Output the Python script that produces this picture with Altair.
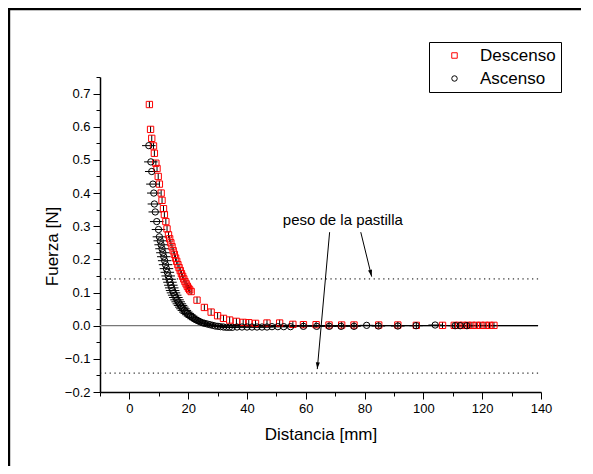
import altair as alt
import pandas as pd

FONT = "Liberation Sans"
NBSP = "\u00a0"

# ---- data ----
series_names = ["Descenso", "Ascenso"]

desc_x = [6.8, 7.2, 7.6, 8.2, 8.5, 9.0, 9.4, 9.8, 10.2, 10.8, 11.1, 11.6, 11.9, 12.4, 12.8,
          13.3, 13.7, 14.1, 14.5, 14.9, 15.3, 15.7, 16.1, 16.5, 16.9, 17.3, 17.7, 18.1, 18.5,
          18.9, 19.3, 19.7, 20.1, 20.5, 21.0, 23.0, 25.5, 27.8, 30.0, 32.0, 34.1, 36.4, 38.7,
          40.6, 42.9, 46.8, 51.1, 55.6, 59.2, 63.5, 67.9, 72.2, 76.4, 84.8, 91.3, 97.6, 106.5,
          110.5, 112.0, 113.5, 115.0, 116.5, 118.0, 119.5, 121.0, 122.5, 124.0]
desc_y = [0.667, 0.592, 0.565, 0.542, 0.520, 0.490, 0.474, 0.450, 0.427, 0.400, 0.378, 0.353,
          0.335, 0.314, 0.292, 0.274, 0.262, 0.250, 0.238, 0.226, 0.215, 0.204, 0.194, 0.184,
          0.175, 0.166, 0.157, 0.149, 0.141, 0.133, 0.126, 0.119, 0.113, 0.108, 0.103, 0.077,
          0.055, 0.041, 0.030, 0.022, 0.017, 0.013, 0.010, 0.009, 0.007, 0.008, 0.008, 0.004,
          0.003, 0.003, 0.002, 0.002, 0.002, 0.002, 0.002, 0.001, 0.001, 0.001, 0.001, 0.001,
          0.001, 0.001, 0.001, 0.001, 0.001, 0.001, 0.001]

asc_x = [6.6, 7.3, 7.6, 8.0, 8.3, 8.5, 8.8, 9.3, 9.9, 10.2, 10.5, 10.8, 11.1, 11.4, 11.7, 12.0,
         12.3, 12.6, 12.9, 13.2, 13.5, 13.8, 14.1, 14.4, 14.7, 15.0, 15.4, 15.8, 16.2, 16.6,
         17.0, 17.4, 17.8, 18.2, 18.7, 19.2, 19.7, 20.2, 20.8, 21.4, 22.0, 22.6, 23.3, 24.0,
         24.8, 25.6, 26.5, 27.4, 28.3, 29.2, 30.1, 31.0, 32.0, 33.0, 34.0, 35.0, 36.6, 38.3,
         40.0, 41.7, 43.4, 45.1, 46.8, 48.5, 50.5, 52.5, 54.8, 59.2, 63.7, 68.0, 72.0, 76.4,
         80.7, 84.7, 91.3, 97.5, 104.0, 110.8, 112.5, 114.8]
asc_y = [0.543, 0.494, 0.465, 0.427, 0.400, 0.367, 0.343, 0.314, 0.290, 0.268, 0.256, 0.244,
         0.232, 0.220, 0.208, 0.196, 0.184, 0.172, 0.161, 0.150, 0.140, 0.131, 0.122, 0.114,
         0.106, 0.099, 0.092, 0.085, 0.078, 0.072, 0.066, 0.061, 0.056, 0.051, 0.046, 0.041,
         0.037, 0.033, 0.029, 0.025, 0.021, 0.018, 0.015, 0.012, 0.009, 0.007, 0.005, 0.003,
         0.001, -0.001, -0.002, -0.003, -0.004, -0.005, -0.005, -0.005, -0.004, -0.004, -0.004,
         -0.004, -0.004, -0.004, -0.004, -0.003, -0.003, -0.003, -0.003, -0.002, -0.002, -0.002,
         -0.002, -0.002, 0.001, -0.001, -0.001, 0.000, 0.002, 0.000, 0.000, 0.000]

ASC_XERR = 2.3      # mm, horizontal error of the "Ascenso" points
DESC_YERR = 0.01    # N, vertical error of the "Descenso" points

weight_levels = [0.141, -0.143]          # "peso de la pastilla"
zero_gray_x = [-10, 139]
zero_black_x = [25, 139]

x_major = [0, 20, 40, 60, 80, 100, 120, 140]
x_minor = [-10, 10, 30, 50, 70, 90, 110, 130]
y_major = [-0.2, -0.1, 0.0, 0.1, 0.2, 0.3, 0.4, 0.5, 0.6, 0.7]
y_minor = [-0.15, -0.05, 0.05, 0.15, 0.25, 0.35, 0.45, 0.55, 0.65, 0.75]

note_text = "peso de la pastilla"
note_pos = (72.6, 0.32)
arrow_start_x = [68.1, 78.7]
arrow_start_y = [0.282, 0.282]
arrow_end_x = [63.9, 82.4]
arrow_end_y = [-0.131, 0.148]
arrow_angle = [5, 346]

# ---- tables ----
pts = pd.DataFrame({
    "serie": [series_names[0]] * len(desc_x) + [series_names[1]] * len(asc_x),
    "x": desc_x + asc_x,
    "y": desc_y + asc_y,
})
desc_df = pd.DataFrame({"x": desc_x, "y": desc_y})
desc_df["ylo"] = desc_df["y"] - DESC_YERR
desc_df["yhi"] = desc_df["y"] + DESC_YERR
asc_df = pd.DataFrame({"x": asc_x, "y": asc_y})
asc_df["xlo"] = asc_df["x"] - ASC_XERR
asc_df["xhi"] = asc_df["x"] + ASC_XERR
lev_df = pd.DataFrame({"y": weight_levels, "x": [-10, -10], "x2": [140, 140]})
arr_df = pd.DataFrame({"x": arrow_start_x, "y": arrow_start_y,
                       "x2": arrow_end_x, "y2": arrow_end_y, "ang": arrow_angle})
one = pd.DataFrame({"a": [0]})

xs = alt.Scale(domain=[-10, 140], nice=False, zero=False)
ys = alt.Scale(domain=[-0.2, 0.75], nice=False, zero=False)


def X(f, **kw):
    return alt.X(f, type="quantitative", scale=xs, axis=None, **kw)


def Y(f, **kw):
    return alt.Y(f, type="quantitative", scale=ys, axis=None, **kw)


# minor tick axes layer (dotted weight lines)
levels = alt.Chart(lev_df).mark_rule(color="black", strokeWidth=1, strokeDash=[1.3, 3.5]).encode(
    x=alt.X("x:Q", scale=xs, axis=alt.Axis(orient="bottom", values=x_minor, tickSize=4, labels=False,
                                          domain=False, title=None, grid=False, tickColor="black")),
    x2="x2:Q",
    y=alt.Y("y:Q", scale=ys, axis=alt.Axis(orient="left", values=y_minor, tickSize=4, labels=False,
                                          domain=False, title=None, grid=False, tickColor="black")),
)

zero_gray = alt.Chart(pd.DataFrame({"x": [zero_gray_x[0]], "x2": [zero_gray_x[1]], "y": [0.0]})).mark_rule(
    color="#777777", strokeWidth=1.2).encode(x=X("x"), x2="x2", y=Y("y"))
zero_black = alt.Chart(pd.DataFrame({"x": [zero_black_x[0]], "x2": [zero_black_x[1]], "y": [0.0]})).mark_rule(
    color="black", strokeWidth=1.2).encode(x=X("x"), x2="x2", y=Y("y"))

desc_err = alt.Chart(desc_df).mark_rule(color="black", strokeWidth=1).encode(
    x=X("x"), y=Y("ylo"), y2="yhi")
asc_err = alt.Chart(asc_df).mark_rule(color="black", strokeWidth=1).encode(
    x=X("xlo"), x2="xhi", y=Y("y"))

points = alt.Chart(pts).mark_point(filled=False, size=40, strokeWidth=1, opacity=1).encode(
    x=alt.X("x:Q", scale=xs, axis=alt.Axis(
        orient="bottom", values=x_major, tickSize=7, labelFontSize=13, labelPadding=3,
        labelFont=FONT, title="Distancia [mm]", titleFont=FONT, titleFontSize=17,
        titleFontWeight="normal", titleBaseline="alphabetic", titleY=47, grid=False,
        domainColor="black", domainWidth=1.5, tickColor="black", labelColor="black",
        titleColor="black", labelFlush=False, labelOverlap=False)),
    y=alt.Y("y:Q", scale=ys, axis=alt.Axis(
        orient="left", values=y_major, format=".1f", tickSize=7, labelFontSize=13, labelPadding=3,
        labelFont=FONT, title="Fuerza [N]", titleFont=FONT, titleFontSize=17,
        titleFontWeight="normal", titleBaseline="alphabetic", titleX=-43, titleY=169,
        titleAngle=270, grid=False, domainColor="black", domainWidth=1.5, tickColor="black",
        labelColor="black", titleColor="black", labelFlush=False, labelOverlap=False)),
    color=alt.Color("serie:N", scale=alt.Scale(domain=series_names, range=["#ff0000", "#000000"]),
                    legend=alt.Legend(title=None, orient="none", legendX=329, legendY=-35,
                                      strokeColor="black", fillColor="white", padding=5,
                                      labelFont=FONT, labelFontSize=17, labelColor="black",
                                      symbolSize=30, symbolStrokeWidth=1, rowPadding=5,
                                      symbolOffset=12, labelOffset=17,
                                      labelExpr=f"datum.label + '{NBSP * 3}'")),
    shape=alt.Shape("serie:N", scale=alt.Scale(domain=series_names, range=["square", "circle"]),
                    legend=None),
    order=alt.Order("ord:Q"),
).transform_calculate(ord=f"datum.serie == '{series_names[0]}' ? 0 : 1")

note = alt.Chart(pd.DataFrame({"x": [note_pos[0]], "y": [note_pos[1]], "t": [note_text]})).mark_text(
    font=FONT, fontSize=15, color="black", baseline="middle", align="center").encode(
    x=X("x"), y=Y("y"), text="t:N")

arrows = alt.Chart(arr_df).mark_rule(color="black", strokeWidth=1).encode(
    x=X("x"), y=Y("y"), x2="x2", y2="y2")
heads = alt.Chart(arr_df).mark_point(shape="M0,0L-0.3,-1L0.3,-1Z", filled=True, size=180,
                                     color="black", opacity=1).encode(
    x=X("x2"), y=Y("y2"), angle=alt.Angle("ang:Q", scale=None))

# outer frame of the figure (top and left edges; the rest lies outside the page)
frame_top = alt.Chart(one).mark_rect(color="black").encode(
    x=alt.value(-92), x2=alt.value(481), y=alt.value(-69.3), y2=alt.value(-66.8))
frame_left = alt.Chart(one).mark_rect(color="black").encode(
    x=alt.value(-92.3), x2=alt.value(-89.8), y=alt.value(-69.3), y2=alt.value(389))

chart = alt.layer(
    levels, zero_gray, zero_black, desc_err, asc_err, points, note, arrows, heads,
    frame_top, frame_left
).resolve_axis(x="independent", y="independent").properties(
    width=441, height=315,
    autosize=alt.AutoSizeParams(type="none"),
    padding={"left": 92, "top": 69, "right": 40, "bottom": 74},
    background="white",
).configure_view(stroke=None).configure_axis(labelFont=FONT, titleFont=FONT)

chart.save("out.html", embed_options={"renderer": "svg", "actions": False})
